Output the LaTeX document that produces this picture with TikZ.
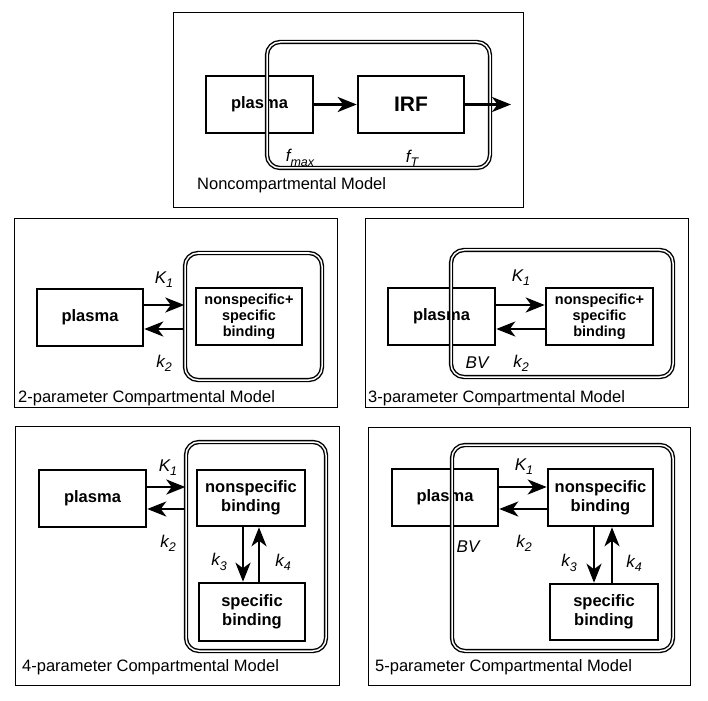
\documentclass[tikz,border=0pt]{standalone}
\usepackage{fontspec}
\setmainfont{Liberation Sans}
\usetikzlibrary{arrows.meta}
\newcommand{\lsub}[1]{\raisebox{-0.25em}{\fontsize{12.5}{14}\selectfont #1}}
\tikzset{
  panel/.style={draw, line width=0.9pt},
  box/.style={draw, line width=2.6pt, inner sep=0pt, align=center,
    font=\bfseries\fontsize{16.5}{19}\selectfont},
  smallbox/.style={box, font=\bfseries\fontsize{14.5}{16}\selectfont},
  region/.style={draw, double, line width=1.4pt, double distance=1.5pt,
    rounded corners=13pt, inner sep=0pt},
  arr/.style={line width=2.6pt, -{Stealth[length=19pt,width=15pt,inset=5.5pt]}},
  lab/.style={inner sep=0pt, font=\itshape\fontsize{17}{19}\selectfont},
  title/.style={anchor=west, inner sep=0pt, font=\fontsize{16.5}{19}\selectfont},
}
\begin{document}
\begin{tikzpicture}[x=1pt, y=-1pt]
\useasboundingbox (0,0) rectangle (708,700);

% ---------- Panel 1: Noncompartmental ----------
\draw[panel] (173,12) rectangle (523,207);
\node[box, minimum width=107pt, minimum height=57pt] (p1) at (259.5,104.5) {plasma};
\node[box, minimum width=106pt, minimum height=57pt,
      font=\bfseries\fontsize{21}{24}\selectfont] (irf) at (411,104.5) {IRF};
\node[region, minimum width=223pt, minimum height=126pt] (r1) at (378.5,105) {};
\coordinate (out1) at (511,104.5);
\draw[arr] (p1.east) -- (irf.west);
\draw[arr] (irf.east) -- (out1);
\node[lab] (fmax) at (300,158) {f\lsub{max}};
\node[lab] (fT) at (412,158) {f\lsub{T}};
\node[title] (t1) at (197,185) {Noncompartmental Model};

% ---------- Panel 2: 2-parameter ----------
\draw[panel] (14,218) rectangle (337,407);
\node[box, minimum width=106pt, minimum height=57pt] (p2) at (90,317.5) {plasma};
\node[region, minimum width=137pt, minimum height=127pt] (r2) at (253.5,316.5) {};
\node[smallbox, minimum width=106pt, minimum height=57pt] (b2) at (249,316.5) {nonspecific+\\specific\\binding};
\draw[arr] (p2.east |- 0,305) -- (r2.west |- 0,305);
\draw[arr] (r2.west |- 0,329) -- (p2.east |- 0,329);
\node[lab] (K12) at (164,280) {K\lsub{1}};
\node[lab] (k22) at (164,363) {k\lsub{2}};
\node[title] (t2) at (18,398) {2-parameter Compartmental Model};

% ---------- Panel 3: 3-parameter ----------
\draw[panel] (365,218) rectangle (688,407);
\node[box, minimum width=107pt, minimum height=57pt] (p3) at (441.5,316.5) {plasma};
\node[smallbox, minimum width=107pt, minimum height=57pt] (b3) at (599.5,316.5) {nonspecific+\\specific\\binding};
\node[region, minimum width=222pt, minimum height=127pt] (r3) at (562,313.5) {};
\draw[arr] (p3.east |- 0,305) -- (b3.west |- 0,305);
\draw[arr] (b3.west |- 0,329) -- (p3.east |- 0,329);
\node[lab] (K13) at (521,278) {K\lsub{1}};
\node[lab] (k23) at (521,363) {k\lsub{2}};
\node[lab] (bv3) at (477,363) {BV};
\node[title] (t3) at (368,398) {3-parameter Compartmental Model};

% ---------- Panel 4: 4-parameter ----------
\draw[panel] (15,426) rectangle (339,685);
\node[box, minimum width=107pt, minimum height=57pt] (p4) at (92.5,498.5) {plasma};
\node[region, minimum width=140pt, minimum height=209pt] (r4) at (256,546.5) {};
\node[box, minimum width=108pt, minimum height=56pt] (n4) at (251,498) {nonspecific\\binding};
\node[box, minimum width=106pt, minimum height=58pt] (s4) at (252,612) {specific\\binding};
\draw[arr] (p4.east |- 0,487) -- (r4.west |- 0,487);
\draw[arr] (r4.west |- 0,509) -- (p4.east |- 0,509);
\draw[arr] (n4.south -| 243,0) -- (s4.north -| 243,0);
\draw[arr] (s4.north -| 259,0) -- (n4.south -| 259,0);
\node[lab] (K14) at (168,468) {K\lsub{1}};
\node[lab] (k24) at (168,543) {k\lsub{2}};
\node[lab] (k34) at (219,562) {k\lsub{3}};
\node[lab] (k44) at (283,562) {k\lsub{4}};
\node[title] (t4) at (22,667) {4-parameter Compartmental Model};

% ---------- Panel 5: 5-parameter ----------
\draw[panel] (368,427) rectangle (690,685);
\node[box, minimum width=106pt, minimum height=57pt] (p5) at (445,497.5) {plasma};
\node[box, minimum width=105pt, minimum height=57pt] (n5) at (600.5,497.5) {nonspecific\\binding};
\node[box, minimum width=108pt, minimum height=56pt] (s5) at (604,612) {specific\\binding};
\node[region, minimum width=221pt, minimum height=206pt] (r5) at (562.5,548) {};
\draw[arr] (p5.east |- 0,487) -- (n5.west |- 0,487);
\draw[arr] (n5.west |- 0,509) -- (p5.east |- 0,509);
\draw[arr] (n5.south -| 594,0) -- (s5.north -| 594,0);
\draw[arr] (s5.north -| 612,0) -- (n5.south -| 612,0);
\node[lab] (K15) at (524,467) {K\lsub{1}};
\node[lab] (k25) at (524,543) {k\lsub{2}};
\node[lab] (bv5) at (468,547) {BV};
\node[lab] (k35) at (569,563) {k\lsub{3}};
\node[lab] (k45) at (634,563) {k\lsub{4}};
\node[title] (t5) at (375,667) {5-parameter Compartmental Model};
\end{tikzpicture}
\end{document}
